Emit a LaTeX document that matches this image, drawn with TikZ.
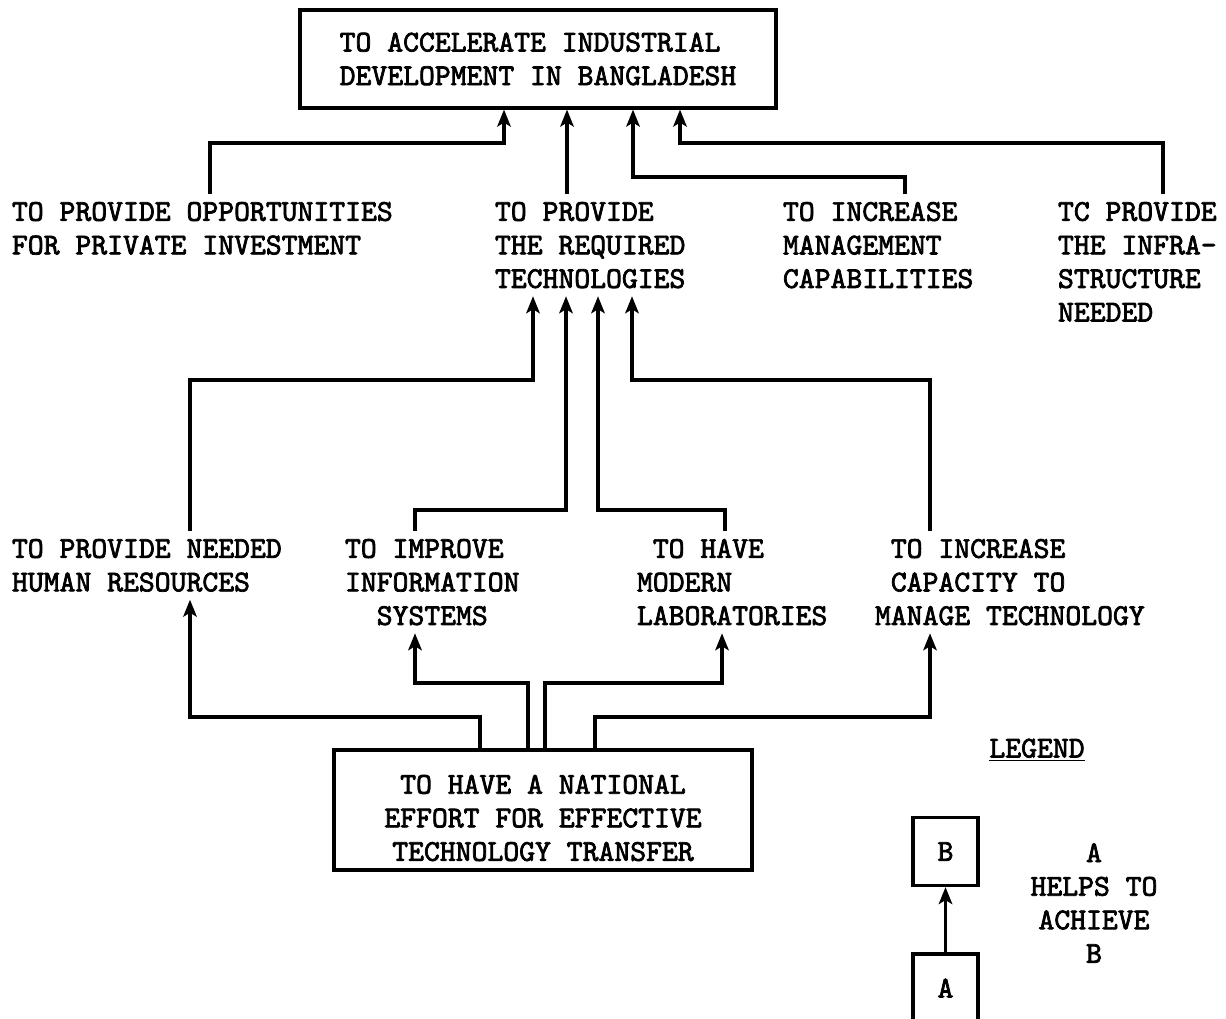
\documentclass[tikz,border=0pt]{standalone}
\usepackage{fontspec}
\newfontfamily\typer{lmmono10-regular.otf}[FakeBold=2.4]
\usepackage{tikz}
\usetikzlibrary{arrows.meta}

\begin{document}
\begin{tikzpicture}[x=0.02cm, y=-0.02cm,
		every node/.style={font=\typer\fontsize{17.2}{19.1}\selectfont},
		aim/.style={inner sep=0pt, outer sep=0.16cm, align=left, anchor=north west},
		goalbox/.style={draw, line width=1.8pt, align=left},
		legbox/.style={draw, line width=1.8pt, minimum width=1.3cm, minimum height=1.36cm},
		helps/.style={line width=1.8pt, -{Stealth[length=0.34cm, width=0.27cm, inset=0.08cm]}}]
			%%%%% START %%%%%
			
			\useasboundingbox (0, 0) rectangle (1226, 1018);
			\clip (0, 0) rectangle (1226, 1018);
			
			\node[goalbox, minimum width=9.52cm, minimum height=1.96cm] (goal) at (538, 59) {TO ACCELERATE INDUSTRIAL\\DEVELOPMENT IN BANGLADESH};
			
			\node[aim] (priv) at (4, 194) {TO PROVIDE OPPORTUNITIES\\FOR PRIVATE INVESTMENT};
			\node[aim] (tech) at (487, 194) {TO PROVIDE\\THE REQUIRED\\TECHNOLOGIES};
			\node[aim] (mgmt) at (775, 194) {TO INCREASE\\MANAGEMENT\\CAPABILITIES};
			\node[aim] (infra) at (1050, 194) {TC PROVIDE\\THE INFRA-\\STRUCTURE\\NEEDED};
			
			\draw[helps] (priv.north -| 210,0) -- (210, 143) -| (goal.south -| 504,0);
			\draw[helps] (tech.north -| 567,0) -- (goal.south -| 567,0);
			\draw[helps] (mgmt.north -| 905,0) -- (905, 177) -| (goal.south -| 633,0);
			\draw[helps] (infra.north -| 1163,0) -- (1163, 143) -| (goal.south -| 680,0);
			
			\node[aim] (hr) at (4, 531) {TO PROVIDE NEEDED\\HUMAN RESOURCES};
			\node[aim] (info) at (337, 531) {TO IMPROVE\\INFORMATION\\\phantom{XX}SYSTEMS};
			\node[aim] (lab) at (629, 531) {\phantom{X}TO HAVE\\MODERN\\LABORATORIES};
			\node[aim] (cap) at (867, 531) {\phantom{X}TO INCREASE\\\phantom{X}CAPACITY TO\\MANAGE TECHNOLOGY};
			
			\draw[helps] (hr.north -| 190,0) -- (190, 380) -| (tech.south -| 533,0);
			\draw[helps] (info.north -| 415,0) -- (415, 510) -| (tech.south -| 566,0);
			\draw[helps] (lab.north -| 725,0) -- (725, 510) -| (tech.south -| 598,0);
			\draw[helps] (cap.north -| 930,0) -- (930, 380) -| (tech.south -| 632,0);
			
			\node[goalbox, minimum width=8.36cm, minimum height=2.4cm] (effort) at (543, 810) {};
			\node[align=center] (efforttext) at (543, 818) {TO HAVE A NATIONAL\\EFFORT FOR EFFECTIVE\\TECHNOLOGY TRANSFER};
			
			\draw[helps] (effort.north -| 480,0) -- (480, 717) -| (hr.south -| 190,0);
			\draw[helps] (effort.north -| 528,0) -- (528, 683) -| (info.south -| 415,0);
			\draw[helps] (effort.north -| 545,0) -- (545, 683) -| (lab.south -| 722,0);
			\draw[helps] (effort.north -| 595,0) -- (595, 717) -| (cap.south -| 930,0);
			
			%% legend
			\node (legend) at (1037, 750) {\underline{LEGEND}};
			\node[legbox] (boxB) at (945.5, 851.5) {B};
			\node[legbox] (boxA) at (945.5, 988) {A};
			\draw[helps] (boxA) -- (boxB);
			\node[align=center] (key) at (1094, 903) {A\\HELPS TO\\ACHIEVE\\B};
			
			%%%%% END %%%%%
\end{tikzpicture}
\end{document}
